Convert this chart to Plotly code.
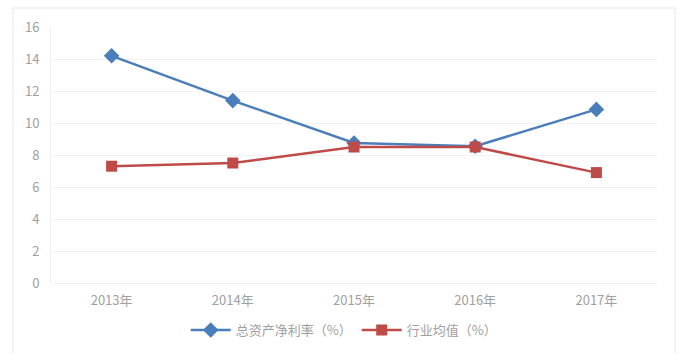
import plotly.graph_objects as go

years = ["2013年", "2014年", "2015年", "2016年", "2017年"]
roa = [14.2, 11.4, 8.75, 8.55, 10.85]
industry = [7.3, 7.5, 8.5, 8.5, 6.9]
name_roa = "总资产净利率（%）"
name_ind = "行业均值（%）"

fig = go.Figure()
fig.add_trace(go.Scatter(x=years, y=roa, name=name_roa, mode="lines+markers",
                         line=dict(color="#4A7EBB", width=2.5),
                         marker=dict(symbol="diamond", size=12, color="#4A7EBB")))
fig.add_trace(go.Scatter(x=years, y=industry, name=name_ind, mode="lines+markers",
                         line=dict(color="#BE4B48", width=2.5),
                         marker=dict(symbol="square", size=11, color="#BE4B48")))

fig.update_layout(
    width=693, height=353,
    margin=dict(l=51, r=36, t=27, b=70, autoexpand=False),
    paper_bgcolor="white", plot_bgcolor="white",
    font=dict(family="Noto Sans CJK SC, sans-serif", size=13, color="#A0A0A0"),
    showlegend=True,
    legend=dict(orientation="h", xref="container", yref="container",
                x=0.496, xanchor="center", y=1 - 330 / 353, yanchor="middle",
                font=dict(size=13, color="#A0A0A0"), itemwidth=40),
    xaxis=dict(range=[-0.5, 4.5], showgrid=False, showline=False, ticks="",
               ticklabelstandoff=8, tickfont=dict(size=13, color="#A0A0A0")),
    yaxis=dict(range=[0, 16], dtick=2, showgrid=True, gridcolor="#F2F2F2", gridwidth=1,
               zeroline=True, zerolinecolor="#F2F2F2", zerolinewidth=1,
               showline=True, linecolor="#F2F2F2", linewidth=1,
               ticks="", ticklabelstandoff=8, tickfont=dict(size=13, color="#A0A0A0")),
    shapes=[dict(type="rect", xref="paper", yref="paper",
                 x0=(13-51)/606, x1=(675-51)/606, y0=(283-360)/256, y1=(283-8)/256,
                 line=dict(color="#F0F0F0", width=1.5), fillcolor="rgba(0,0,0,0)", layer="below")],
)
fig.write_html("out.html")
